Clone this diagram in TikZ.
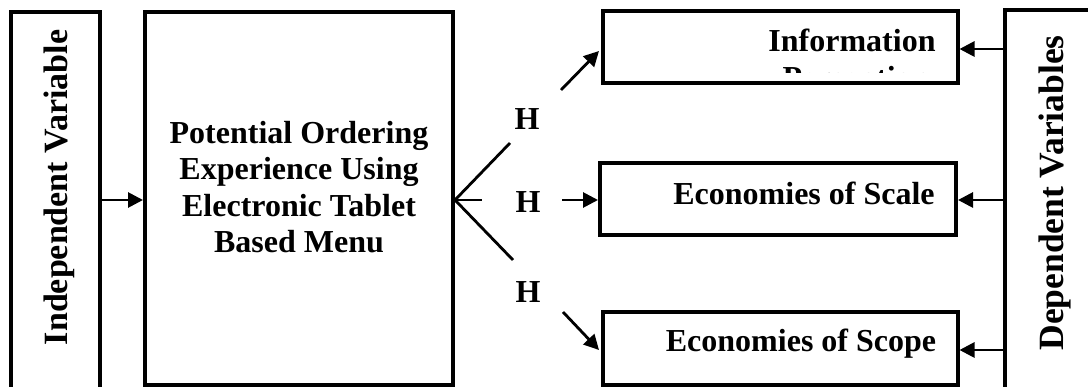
\documentclass[tikz,border=0pt]{standalone}
\usepackage{fontspec}
\setmainfont{Liberation Serif}
\usetikzlibrary{arrows.meta}
\begin{document}
\begin{tikzpicture}[x=1pt,y=-1pt,
  box/.style={draw, line width=4pt, inner sep=0pt},
  arr/.style={line width=2.8pt, -{Triangle[length=15pt,width=15pt]}},
  fan/.style={line width=2.8pt},
  txt/.style={font=\bfseries\fontsize{32}{36.5}\selectfont, inner sep=0pt},
  vtxt/.style={font=\bfseries\fontsize{34}{40}\selectfont, inner sep=0pt, rotate=90, anchor=base}]
\useasboundingbox (0,0) rectangle (1088,387);
\clip (0,0) rectangle (1088,387);
% boxes
\node[box, minimum width=89pt, minimum height=410pt] (iv) at (55,217) {};
\node[box, minimum width=308pt, minimum height=373pt] (mn) at (299,198.5) {};
\node[box, minimum width=355pt, minimum height=72pt] (ip) at (780,47) {};
\node[box, minimum width=356pt, minimum height=72pt] (sc) at (778,199) {};
\node[box, minimum width=355pt, minimum height=73pt] (so) at (780,348.5) {};
\node[box, minimum width=120pt, minimum height=420pt] (dv) at (1065,220) {};
% texts
\node[vtxt] (ivt) at (67,187.5) {Independent Variable};
\node[vtxt, font=\bfseries\fontsize{35.5}{40}\selectfont] (dvt) at (1063,193) {Dependent Variables};
\node[txt, align=center] (mnt) at (299,187) {Potential Ordering\\Experience Using\\Electronic Tablet\\Based Menu};
\begin{scope}
  \clip (604,13) rectangle (955,73);
  \node[txt, anchor=base] (ipt1) at (852,52) {Information};
  \node[txt, anchor=base] (ipt2) at (856,89) {Perception};
\end{scope}
\node[txt, anchor=base] (sct) at (804,205) {Economies of Scale};
\node[txt, anchor=base] (sot) at (801,352) {Economies of Scope};
\node[txt, anchor=base] (h1) at (527,130) {H};
\node[txt, anchor=base] (h2) at (528,213) {H};
\node[txt, anchor=base] (h3) at (528,303) {H};
% connector coordinates
\coordinate (fv) at (mn.east |- 0,200);
\coordinate (fu) at (510,143);
\coordinate (fm) at (482,200);
\coordinate (fl) at (513,260);
\coordinate (a1) at (561,90);
\coordinate (a1e) at (599,51);
\coordinate (a2) at (562,200);
\coordinate (a3) at (563,312);
\coordinate (a3e) at (599,350);
% connectors
\draw[arr] (iv.east |- 0,200) -- (mn.west |- 0,200);
\draw[fan] (fu) -- (fv) -- (fl);
\draw[fan] (fv) -- (fm);
\draw[arr] (a1) -- (a1e);
\draw[arr] (a2) -- (sc.west |- a2);
\draw[arr] (a3) -- (a3e);
\draw[arr] (dv.west |- 0,49) -- (ip.east |- 0,49);
\draw[arr] (dv.west |- 0,200) -- (sc.east |- 0,200);
\draw[arr] (dv.west |- 0,350) -- (so.east |- 0,350);
\end{tikzpicture}
\end{document}
